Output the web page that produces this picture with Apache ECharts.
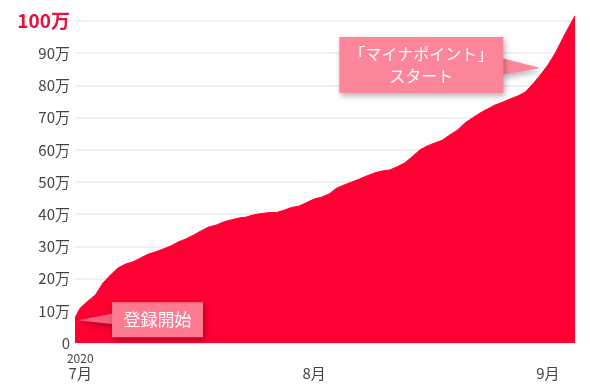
<!DOCTYPE html>
<html>
<head>
<meta charset="utf-8">
<script src="https://cdn.jsdelivr.net/npm/echarts@6/dist/echarts.min.js"></script>
<style>
  html, body { margin: 0; padding: 0; background: #fff; }
  #chart { width: 590px; height: 387px; }
</style>
</head>
<body>
<div id="chart"></div>
<script>
// 7/1 を 0 とした経過日数
const days = [-0.7, 0, 1, 2, 3, 4, 5, 6, 7, 8, 9, 10, 11, 12, 13, 14, 15, 16, 17, 18, 19,
  20, 21, 22, 23, 24, 25, 26, 27, 28, 29, 30, 31, 32, 33, 34, 35, 36, 37, 38, 39,
  40, 41, 42, 43, 44, 45, 46, 47, 48, 49, 50, 51, 52, 53, 54, 55, 56, 57, 58, 59,
  60, 61, 62, 63, 64, 65, 65.6];
// 登録者数（万人）
const counts = [7.8, 10.9, 13.0, 14.9, 18.6, 21.1, 23.3, 24.5, 25.2, 26.4, 27.6,
  28.3, 29.2, 30.1, 31.4, 32.3, 33.5, 34.8, 36.0, 36.6, 37.6,
  38.2, 38.8, 39.1, 39.8, 40.2, 40.5, 40.5, 41.2, 42.1, 42.5,
  43.6, 44.7, 45.3, 46.3, 48.1, 49.1, 50.0, 50.9, 51.9, 52.8,
  53.4, 53.7, 54.7, 55.9, 57.8, 59.9, 61.2, 62.1, 63.0, 64.6,
  66.1, 68.3, 69.9, 71.4, 72.7, 73.9, 74.8, 75.8, 76.7, 77.9,
  80.4, 83.2, 86.3, 90.1, 94.7, 99.1, 101.6];
const xTickDays = [0, 31, 62];
const xTickYears = ['2020', '', ''];
const xTickMonths = ['7月', '8月', '9月'];
// 吹き出し
const notes = [
  { text: '登録開始', at: [-0.3, 7.1] },
  { text: '「マイナポイント」\nスタート', at: [61, 85.4] }
];

const FONT = '"Noto Sans CJK JP", "Noto Sans", sans-serif';
const RED = '#ff0033';
const PINK = '#fd8599';

const chart = echarts.init(document.getElementById('chart'));

const option = {
  animation: false,
  grid: { left: 75, right: 15, top: 21, bottom: 44 },
  xAxis: {
    type: 'value',
    min: days[0],
    max: days[days.length - 1],
    axisLine: { show: false },
    axisTick: { show: false },
    splitLine: { show: false },
    axisLabel: {
      customValues: xTickDays,
      margin: 9,
      color: '#444',
      fontFamily: FONT,
      formatter: v => {
        const i = xTickDays.indexOf(v);
        return '{y|' + (xTickYears[i] || ' ') + '}\n{m|' + xTickMonths[i] + '}';
      },
      rich: {
        y: { fontSize: 12, lineHeight: 13, color: '#444', fontFamily: FONT },
        m: { fontSize: 15, lineHeight: 17, color: '#444', fontFamily: FONT }
      }
    }
  },
  yAxis: {
    type: 'value',
    min: 0,
    max: 100,
    interval: 10,
    axisLine: { show: false },
    axisTick: { show: false },
    splitLine: { lineStyle: { color: '#ebebeb', width: 1.5 } },
    axisLabel: {
      margin: 5,
      color: '#444',
      fontSize: 15,
      fontFamily: FONT,
      formatter: v => v === 0 ? '0' : (v === 100 ? '{big|100万}' : v + '万'),
      rich: {
        big: { fontSize: 19, fontWeight: 'bold', color: '#e8103c', fontFamily: FONT }
      }
    }
  },
  series: [{
    type: 'line',
    data: days.map((d, i) => [d, counts[i]]),
    symbol: 'none',
    clip: false,
    lineStyle: { color: RED, width: 1 },
    areaStyle: { color: RED, opacity: 1 }
  }]
};

chart.setOption(option);

// 吹き出しの位置をデータ座標から求める
const [t1x, t1y] = chart.convertToPixel({ seriesIndex: 0 }, notes[0].at);
const [t2x, t2y] = chart.convertToPixel({ seriesIndex: 0 }, notes[1].at);
const shadow = { shadowBlur: 6, shadowOffsetX: 2, shadowOffsetY: 3, shadowColor: 'rgba(0,0,0,0.3)' };

const b1 = { x: t1x + 34, y: t1y - 18, w: 91, h: 35 };
const b2 = { x: t2x - 201, y: t2y - 31, w: 164, h: 56 };

chart.setOption({
  graphic: [
    {
      type: 'group',
      z: 100,
      children: [
        { type: 'polygon', z: 100, shape: { points: [[t1x, t1y], [b1.x + 2, t1y - 7], [b1.x + 2, t1y + 4]] }, style: Object.assign({ fill: '#f8607a' }, shadow) },
        { type: 'rect', z: 100, shape: { x: b1.x, y: b1.y, width: b1.w, height: b1.h }, style: Object.assign({ fill: '#fd7a90' }, shadow) },
        { type: 'text', z: 101, x: b1.x + b1.w / 2, y: b1.y + b1.h / 2, style: { text: notes[0].text, fill: '#fff', font: '17px ' + FONT, align: 'center', verticalAlign: 'middle' } }
      ]
    },
    {
      type: 'group',
      z: 100,
      children: [
        { type: 'polygon', z: 100, shape: { points: [[t2x, t2y], [b2.x + b2.w - 2, t2y - 10], [b2.x + b2.w - 2, t2y + 7]] }, style: Object.assign({ fill: PINK }, shadow) },
        { type: 'rect', z: 100, shape: { x: b2.x, y: b2.y, width: b2.w, height: b2.h }, style: Object.assign({ fill: PINK }, shadow) },
        { type: 'text', z: 101, x: b2.x + b2.w / 2, y: b2.y + b2.h / 2, style: { text: notes[1].text, fill: '#fff', font: '16px ' + FONT, lineHeight: 22, align: 'center', verticalAlign: 'middle' } }
      ]
    }
  ]
});
</script>
</body>
</html>
